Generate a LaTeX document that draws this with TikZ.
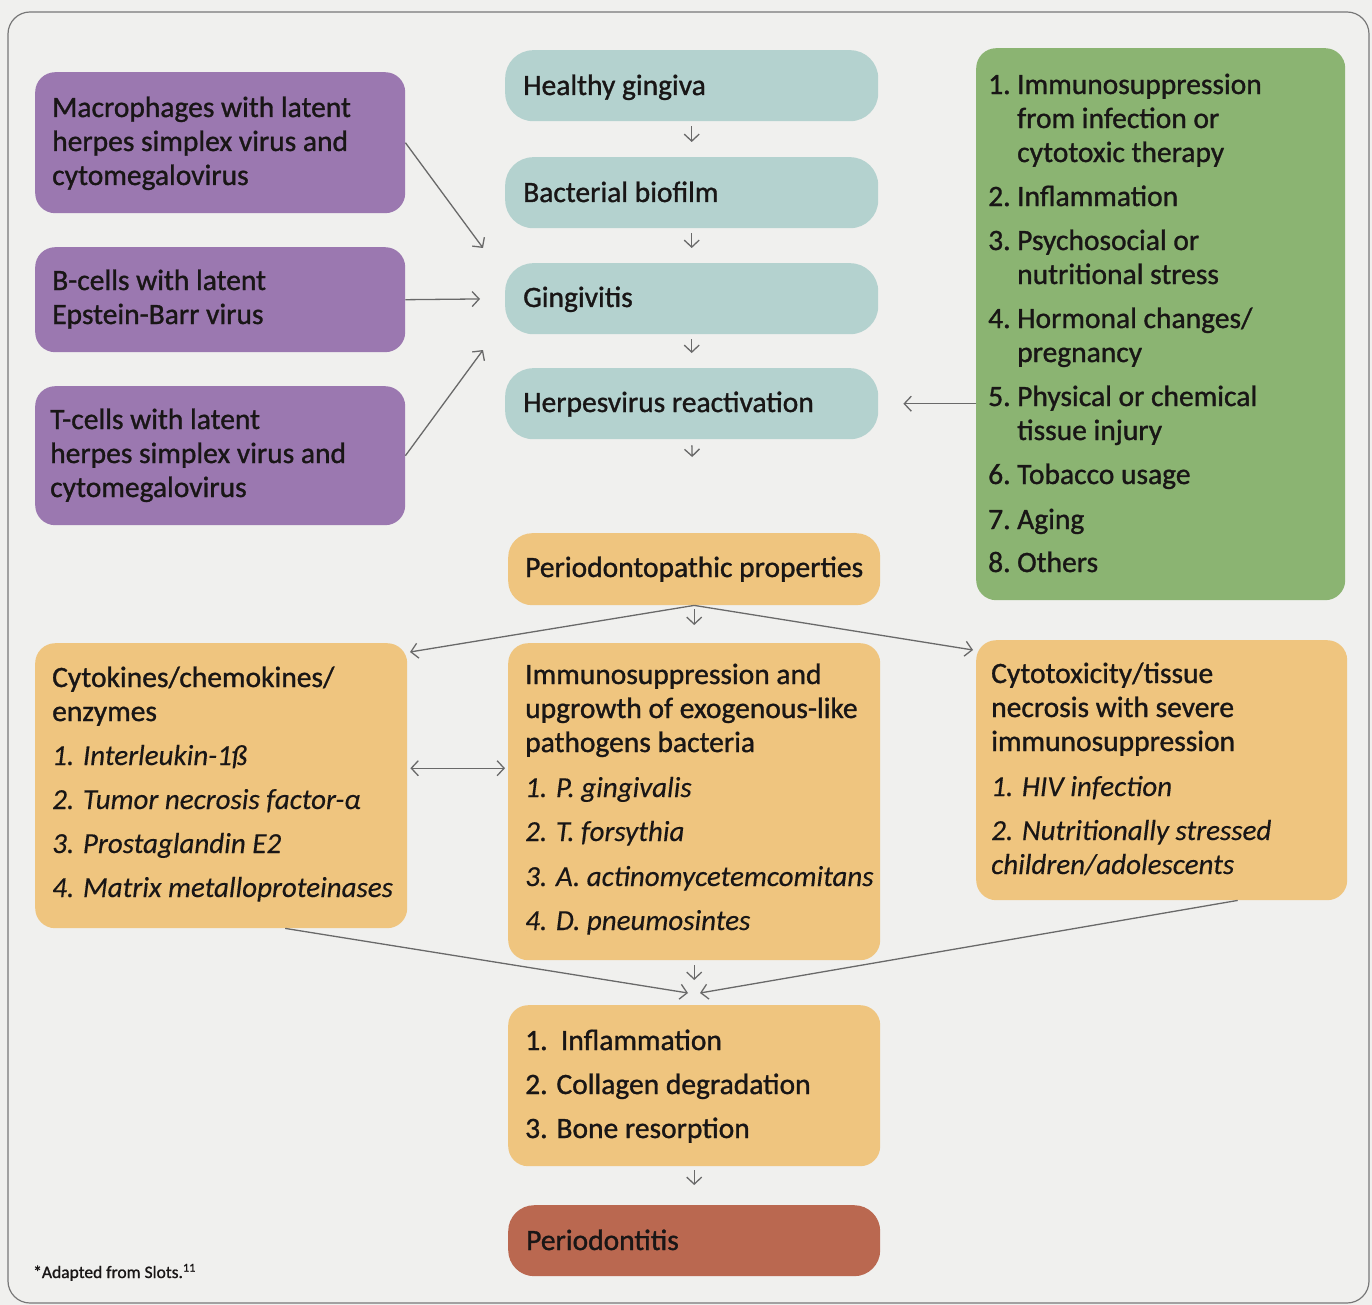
\documentclass[tikz,border=0pt]{standalone}
\usepackage{fontspec}
\setmainfont{Carlito}[FakeBold=1.1]
\newfontfamily\itfam{Carlito}[FakeBold=0.3]
\usetikzlibrary{arrows.meta,calc}
\definecolor{bgc}{RGB}{240,240,238}
\definecolor{framec}{RGB}{120,120,120}
\definecolor{purp}{RGB}{155,120,176}
\definecolor{teal}{RGB}{180,210,207}
\definecolor{oran}{RGB}{239,197,127}
\definecolor{grn}{RGB}{139,180,114}
\definecolor{brn}{RGB}{186,104,80}
\definecolor{txtc}{RGB}{25,22,22}
\definecolor{arrc}{RGB}{105,105,105}
\newcommand{\itm}{\itfam\itshape\fontsize{29}{34}\selectfont}
\newcommand{\nb}[1]{\makebox[29pt][l]{#1}}
\begin{document}
\begin{tikzpicture}[x=1pt,y=-1pt,
  box/.style={draw=none, anchor=north west, inner sep=0pt, rounded corners=20pt},
  tbox/.style={box, fill=teal, rounded corners=28pt, minimum width=373pt, minimum height=71pt},
  txt/.style={anchor=base west, align=left, inner sep=0pt, text=txtc, font=\fontsize{29.5}{34}\selectfont},
  arr/.style={draw=arrc, line width=1.3pt, -{Straight Barb[length=7pt,width=15pt,line width=1.3pt]}},
  darr/.style={draw=arrc, line width=1.3pt, {Straight Barb[length=7pt,width=15pt,line width=1.3pt]}-{Straight Barb[length=7pt,width=15pt,line width=1.3pt]}}
]
\useasboundingbox (0,0) rectangle (1372,1305);
\fill[bgc] (0,0) rectangle (1372,1305);
\draw[framec, line width=1.2pt, rounded corners=22pt] (8,12) rectangle (1369,1303);

% purple boxes
\node[box, fill=purp, minimum width=370pt, minimum height=141pt] (p1) at (35,72) {};
\node[box, fill=purp, minimum width=370pt, minimum height=105pt] (p2) at (35,247) {};
\node[box, fill=purp, minimum width=370pt, minimum height=139pt] (p3) at (35,386) {};
% text nodes: anchor is the baseline of the last line
\node[txt] (tp1) at (52,185) {Macrophages with latent\\herpes simplex virus and\\cytomegalovirus};
\node[txt] (tp2) at (52,324) {B-cells with latent\\Epstein-Barr virus};
\node[txt] (tp3) at (50,497) {T-cells with latent\\herpes simplex virus and\\cytomegalovirus};

% teal column
\node[tbox] (hg) at (505,50) {};
\node[tbox] (bb) at (505,157) {};
\node[tbox] (gi) at (505,263) {};
\node[tbox] (hr) at (505,368) {};
\node[txt] (thg) at (523,95) {Healthy gingiva};
\node[txt] (tbb) at (523,202) {Bacterial biofilm};
\node[txt] (tgi) at (523,307) {Gingivitis};
\node[txt] (thr) at (523,412) {Herpesvirus reactivation};

% green box
\node[box, fill=grn, minimum width=369pt, minimum height=552pt] (gr) at (976,48) {};
\node[txt] (tgr) at (988,572) {\nb{1.}Immunosuppression\\\nb{}from infection or\\\nb{}cytotoxic therapy\\[10pt]
\nb{2.}Inflammation\\[10pt]
\nb{3.}Psychosocial or\\\nb{}nutritional stress\\[10pt]
\nb{4.}Hormonal changes/\\\nb{}pregnancy\\[10pt]
\nb{5.}Physical or chemical\\\nb{}tissue injury\\[10pt]
\nb{6.}Tobacco usage\\[11pt]
\nb{7.}Aging\\[9pt]
\nb{8.}Others};

% orange boxes
\node[box, fill=oran, rounded corners=24pt, minimum width=372pt, minimum height=72pt] (pp) at (508,533) {};
\node[txt] (tpp) at (525,577) {Periodontopathic properties};
\node[box, fill=oran, minimum width=372pt, minimum height=285pt] (cy) at (35,643) {};
\node[txt] (tcy) at (52,897) {Cytokines/chemokines/\\enzymes\\[10pt]
{\itm 1. Interleukin-1ß}\\[10pt]
{\itm 2. Tumor necrosis factor-α}\\[10pt]
{\itm 3. Prostaglandin E2}\\[10pt]
{\itm 4. Matrix metalloproteinases}};
\node[box, fill=oran, minimum width=372pt, minimum height=317pt] (im) at (508,643) {};
\node[txt] (tim) at (525,930) {Immunosuppression and\\upgrowth of exogenous-like\\pathogens bacteria\\[11pt]
{\itm 1. P. gingivalis}\\[10pt]
{\itm 2. T. forsythia}\\[11pt]
{\itm 3. A. actinomycetemcomitans}\\[10pt]
{\itm 4. D. pneumosintes}};
\node[box, fill=oran, minimum width=371pt, minimum height=260pt] (ct) at (976,640) {};
\node[txt] (tct) at (991,874) {Cytotoxicity/tissue\\necrosis with severe\\immunosuppression\\[11pt]
{\itm 1. HIV infection}\\[10pt]
{\itm 2. Nutritionally stressed}\\
{\itm children/adolescents}};
\node[box, fill=oran, minimum width=372pt, minimum height=161pt] (rs) at (508,1005) {};
\node[txt] (trs) at (525,1138) {1.\ \ Inflammation\\[10pt]2. Collagen degradation\\[10pt]3. Bone resorption};
\node[box, fill=brn, rounded corners=26pt, minimum width=372pt, minimum height=71pt] (pd) at (508,1205) {};
\node[txt] (tpd) at (526,1250) {Periodontitis};

\node[anchor=base west, inner sep=0pt, text=txtc, font=\fontsize{17.5}{20}\selectfont] (fn) at (33,1278) {*Adapted from Slots.\textsuperscript{11}};

% coordinates for free ends
\coordinate (e1) at (483,248);
\coordinate (e3) at (483,350);
\coordinate (eL) at (410,652);
\coordinate (eR) at (973,650);
\coordinate (bL) at (688,993);
\coordinate (bR) at (700,993);

% connectors
\draw[arr] (p1.east) -- (e1);
\draw[arr, shorten >=25pt] (p2.east) -- (gi.west);
\draw[arr] (p3.east) -- (e3);
\draw[arr, shorten >=25pt] (gr.west |- hr.east) -- (hr.east);
\draw[arr, shorten <=5pt, shorten >=15pt] (hg.south) -- (bb.north);
\draw[arr, shorten <=5pt, shorten >=15pt] (bb.south) -- (gi.north);
\draw[arr, shorten <=5pt, shorten >=15pt] (gi.south) -- (hr.north);
\draw[arr, shorten <=6pt, shorten >=76pt] (hr.south) -- (pp.north);
\draw[arr, shorten <=4pt, shorten >=18pt] (pp.south) -- (im.north);
\draw[arr] (pp.south) -- (eL);
\draw[arr] (pp.south) -- (eR);
\draw[darr] ([xshift=3pt,yshift=17.5pt]cy.east) -- ([xshift=-3pt,yshift=33.5pt]im.west);
\draw[arr, shorten <=5pt, shorten >=25pt] (im.south) -- (rs.north);
\draw[arr] ([xshift=64pt]cy.south) -- (bL);
\draw[arr] ([xshift=76pt]ct.south) -- (bR);
\draw[arr, shorten <=4pt, shorten >=20pt] (rs.south) -- (pd.north);
\end{tikzpicture}
\end{document}
